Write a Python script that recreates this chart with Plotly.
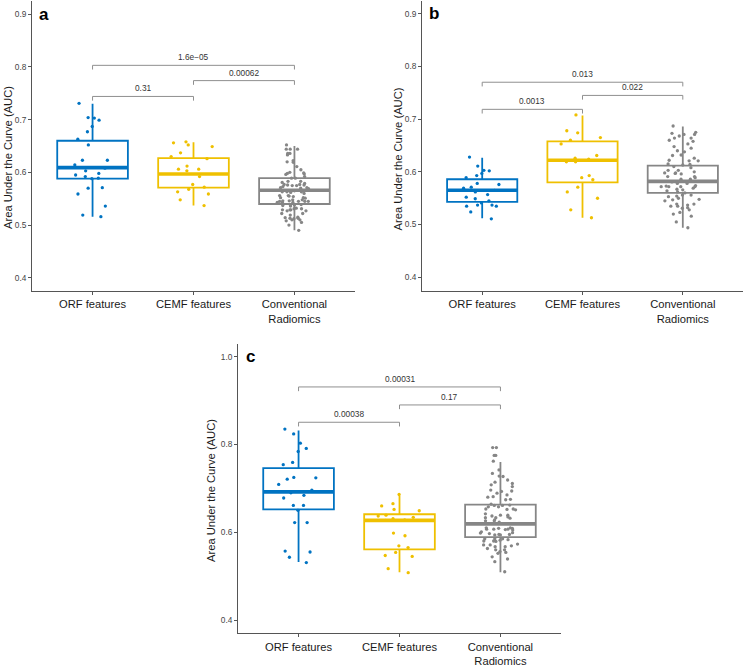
import plotly.graph_objects as go

# ---------------- data ----------------
categories = ["ORF features", "CEMF features", "Conventional<br>Radiomics"]
colors = ["#0073C2", "#EFC000", "#868686"]
panel_labels = ["a", "b", "c"]

# panel a : individual AUC values
a_orf = [0.731, 0.699, 0.687, 0.703, 0.704, 0.677, 0.663, 0.652, 0.623, 0.623, 0.614, 0.603,
         0.595, 0.598, 0.588, 0.589, 0.592, 0.608, 0.570, 0.571, 0.559, 0.536, 0.519, 0.516]
a_cemf = [0.658, 0.656, 0.652, 0.649, 0.630, 0.637, 0.626, 0.612, 0.606, 0.603, 0.592, 0.606,
          0.572, 0.568, 0.577, 0.563, 0.559, 0.548, 0.537]
a_conv = [0.652, 0.633, 0.644, 0.636, 0.644, 0.644, 0.636, 0.620, 0.611, 0.622, 0.619, 0.598,
          0.600, 0.599, 0.596, 0.605, 0.597, 0.592, 0.589, 0.589, 0.581, 0.583, 0.576, 0.577,
          0.577, 0.579, 0.576, 0.583, 0.575, 0.575, 0.569, 0.571, 0.570, 0.573, 0.571, 0.563,
          0.562, 0.560, 0.563, 0.565, 0.563, 0.566, 0.565, 0.552, 0.554, 0.556, 0.555, 0.552,
          0.548, 0.551, 0.556, 0.545, 0.546, 0.543, 0.548, 0.543, 0.545, 0.545, 0.545, 0.537,
          0.538, 0.536, 0.539, 0.546, 0.538, 0.543, 0.529, 0.531, 0.531, 0.532, 0.527, 0.529,
          0.527, 0.529, 0.522, 0.522, 0.519, 0.514, 0.513, 0.515, 0.510, 0.505, 0.512, 0.510,
          0.508, 0.513, 0.500, 0.490]
# panel b
b_orf = [0.628, 0.611, 0.597, 0.593, 0.602, 0.603, 0.589, 0.576, 0.569, 0.562, 0.578, 0.571,
         0.552, 0.557, 0.549, 0.545, 0.541, 0.537, 0.535, 0.537, 0.535, 0.524, 0.511, 0.565]
b_cemf = [0.708, 0.678, 0.674, 0.665, 0.660, 0.653, 0.626, 0.631, 0.624, 0.619, 0.619, 0.593,
          0.589, 0.585, 0.571, 0.562, 0.550, 0.528, 0.513]
b_conv = [0.687, 0.675, 0.673, 0.671, 0.671, 0.668, 0.664, 0.664, 0.658, 0.660, 0.653, 0.648,
          0.645, 0.640, 0.638, 0.632, 0.631, 0.622, 0.626, 0.621, 0.621, 0.615, 0.614, 0.613,
          0.608, 0.610, 0.603, 0.598, 0.597, 0.598, 0.600, 0.603, 0.596, 0.591, 0.591, 0.586,
          0.589, 0.586, 0.581, 0.578, 0.578, 0.572, 0.572, 0.572, 0.573, 0.574, 0.572, 0.569,
          0.567, 0.566, 0.562, 0.564, 0.560, 0.556, 0.556, 0.553, 0.554, 0.550, 0.548, 0.547,
          0.545, 0.539, 0.537, 0.539, 0.535, 0.531, 0.535, 0.528, 0.532, 0.523, 0.520, 0.516,
          0.505, 0.494]
# panel c
c_orf = [0.835, 0.824, 0.803, 0.791, 0.784, 0.759, 0.754, 0.724, 0.725, 0.721, 0.709, 0.696,
         0.678, 0.684, 0.690, 0.661, 0.661, 0.650, 0.622, 0.622, 0.557, 0.555, 0.543, 0.531]
c_cemf = [0.686, 0.665, 0.660, 0.652, 0.649, 0.634, 0.637, 0.639, 0.628, 0.631, 0.598, 0.592,
          0.569, 0.565, 0.554, 0.547, 0.545, 0.517, 0.508, 0.627]
c_conv = [0.793, 0.793, 0.775, 0.775, 0.762, 0.734, 0.727, 0.742, 0.728, 0.719, 0.714, 0.711,
          0.708, 0.704, 0.696, 0.693, 0.694, 0.689, 0.680, 0.674, 0.675, 0.685, 0.681, 0.661,
          0.658, 0.661, 0.658, 0.664, 0.662, 0.651, 0.653, 0.652, 0.653, 0.639, 0.642, 0.637,
          0.639, 0.633, 0.635, 0.632, 0.633, 0.626, 0.628, 0.623, 0.626, 0.609, 0.610, 0.610,
          0.607, 0.605, 0.607, 0.606, 0.609, 0.607, 0.599, 0.601, 0.598, 0.594, 0.597, 0.595,
          0.595, 0.594, 0.583, 0.585, 0.585, 0.580, 0.579, 0.585, 0.582, 0.580, 0.571, 0.567,
          0.573, 0.571, 0.569, 0.567, 0.554, 0.552, 0.560, 0.560, 0.556, 0.563, 0.544, 0.539,
          0.533, 0.510]

# box statistics (ORF, CEMF, Conventional)
a_q1 = [0.588, 0.571, 0.540]; a_med = [0.609, 0.597, 0.566]; a_q3 = [0.660, 0.627, 0.589]
a_lo = [0.516, 0.537, 0.490]; a_hi = [0.730, 0.657, 0.650]
b_q1 = [0.543, 0.580, 0.560]; b_med = [0.565, 0.622, 0.582]; b_q3 = [0.586, 0.658, 0.612]
b_lo = [0.512, 0.513, 0.494]; b_hi = [0.627, 0.707, 0.686]
c_q1 = [0.652, 0.561, 0.589]; c_med = [0.692, 0.627, 0.619]; c_q3 = [0.746, 0.641, 0.663]
c_lo = [0.532, 0.509, 0.509]; c_hi = [0.832, 0.683, 0.760]

# pairwise comparisons: (group i, group j), p-value label, bracket height
comp_pairs = [(0, 1), (1, 2), (0, 2)]
a_pvals = ["0.31", "0.00062", "1.6e\u221205"]; a_brk = [0.744, 0.774, 0.803]
b_pvals = ["0.0013", "0.022", "0.013"];      b_brk = [0.7186, 0.745, 0.770]
c_pvals = ["0.00038", "0.17", "0.00031"];    c_brk = [0.8506, 0.890, 0.931]

# y-axis setup
a_ticks = [0.4, 0.5, 0.6, 0.7, 0.8, 0.9]
c_ticks = [0.4, 0.6, 0.8, 1.0]

# ---------------- figure ----------------
W, H = 746, 666
FONT = "Liberation Sans, Arial, sans-serif"

panels = [
    dict(points=[a_orf, a_cemf, a_conv], q1=a_q1, med=a_med, q3=a_q3, lo=a_lo, hi=a_hi,
         pvals=a_pvals, brk=a_brk, ticks=a_ticks, yr=[0.375, 0.925],
         xpx=(32, 355), ypx=(1, 291), title_px=(8, 158)),
    dict(points=[b_orf, b_cemf, b_conv], q1=b_q1, med=b_med, q3=b_q3, lo=b_lo, hi=b_hi,
         pvals=b_pvals, brk=b_brk, ticks=a_ticks, yr=[0.375, 0.925],
         xpx=(422, 743), ypx=(0.5, 290.5), title_px=(398, 159.5)),
    dict(points=[c_orf, c_cemf, c_conv], q1=c_q1, med=c_med, q3=c_q3, lo=c_lo, hi=c_hi,
         pvals=c_pvals, brk=c_brk, ticks=c_ticks, yr=[0.37, 1.03],
         xpx=(238, 561), ypx=(343.5, 633.2), title_px=(211, 491)),
]

fig = go.Figure()
annotations = []
layout_axes = {}
BOXW = 0.7

for p_i, P in enumerate(panels):
    n = "" if p_i == 0 else str(p_i + 1)
    xa, ya = "x" + n, "y" + n
    # boxes from summary statistics
    for g in range(3):
        fig.add_trace(go.Box(
            x=[g], q1=[P["q1"][g]], median=[P["med"][g]], q3=[P["q3"][g]],
            lowerfence=[P["lo"][g]], upperfence=[P["hi"][g]],
            width=BOXW, whiskerwidth=0, fillcolor="white",
            line=dict(color=colors[g], width=1.8), boxpoints=False,
            xaxis=xa, yaxis=ya, showlegend=False, hoverinfo="skip"))
    # jittered points
    for g in range(3):
        vals = P["points"][g]
        fig.add_trace(go.Box(
            x=[g] * len(vals), y=vals, width=BOXW, boxpoints="all", jitter=0.66,
            pointpos=0, fillcolor="rgba(0,0,0,0)", line=dict(width=0, color="rgba(0,0,0,0)"),
            marker=dict(color=colors[g], size=3.3), whiskerwidth=0,
            xaxis=xa, yaxis=ya, showlegend=False, hoverinfo="y"))
    # thick median lines
    for g in range(3):
        fig.add_trace(go.Scatter(
            x=[g - BOXW / 2, g + BOXW / 2], y=[P["med"][g]] * 2, mode="lines",
            line=dict(color=colors[g], width=3.6), xaxis=xa, yaxis=ya,
            showlegend=False, hoverinfo="skip"))
    # significance brackets
    tick = (P["yr"][1] - P["yr"][0]) * 0.0145
    for (i, j), lab, h in zip(comp_pairs, P["pvals"], P["brk"]):
        fig.add_trace(go.Scatter(
            x=[i, i, j, j], y=[h - tick, h, h, h - tick], mode="lines",
            line=dict(color="#8f8f8f", width=1), xaxis=xa, yaxis=ya,
            showlegend=False, hoverinfo="skip"))
        annotations.append(dict(x=(i + j) / 2, y=h, xref=xa, yref=ya, text=lab,
                                showarrow=False, yanchor="bottom", yshift=1,
                                font=dict(size=8.3, color="#333333", family=FONT)))
    # panel letter
    annotations.append(dict(x=-0.48, y=P["ticks"][-1], xref=xa, yref=ya,
                            text="<b>" + panel_labels[p_i] + "</b>", showarrow=False,
                            xanchor="center", yanchor="middle",
                            font=dict(size=17, color="black", family=FONT)))
    # y-axis title
    annotations.append(dict(x=P["title_px"][0] / W, y=1 - P["title_px"][1] / H,
                            xref="paper", yref="paper", text="Area Under the Curve (AUC)",
                            textangle=-90, showarrow=False, xanchor="center", yanchor="middle",
                            font=dict(size=11.2, color="#1a1a1a", family=FONT)))

    x0, x1 = P["xpx"]; y0, y1 = P["ypx"]
    layout_axes["xaxis" + n] = dict(
        domain=[x0 / W, x1 / W], anchor=ya, range=[-0.6, 2.6],
        tickvals=[0, 1, 2], ticktext=categories, showline=True, linecolor="#555555",
        linewidth=1, ticks="outside", ticklen=3, tickcolor="#555555", showgrid=False,
        zeroline=False, tickfont=dict(size=11.2, color="#1a1a1a", family=FONT))
    layout_axes["yaxis" + n] = dict(
        domain=[1 - y1 / H, 1 - y0 / H], anchor=xa, range=P["yr"],
        tickvals=P["ticks"], tickformat=".1f", showline=True, linecolor="#555555",
        linewidth=1, ticks="outside", ticklen=3, tickcolor="#555555", showgrid=False,
        zeroline=False, tickfont=dict(size=8.3, color="#444444", family=FONT))

fig.update_layout(
    width=W, height=H, margin=dict(l=0, r=0, t=0, b=0),
    paper_bgcolor="white", plot_bgcolor="white", showlegend=False,
    annotations=annotations, font=dict(family=FONT), **layout_axes)

fig.write_html(
    "out.html",
    config={"displayModeBar": False},
    post_script="document.body.style.margin='0';"
                "document.body.style.overflow='hidden';"
                "document.documentElement.style.overflow='hidden';")
